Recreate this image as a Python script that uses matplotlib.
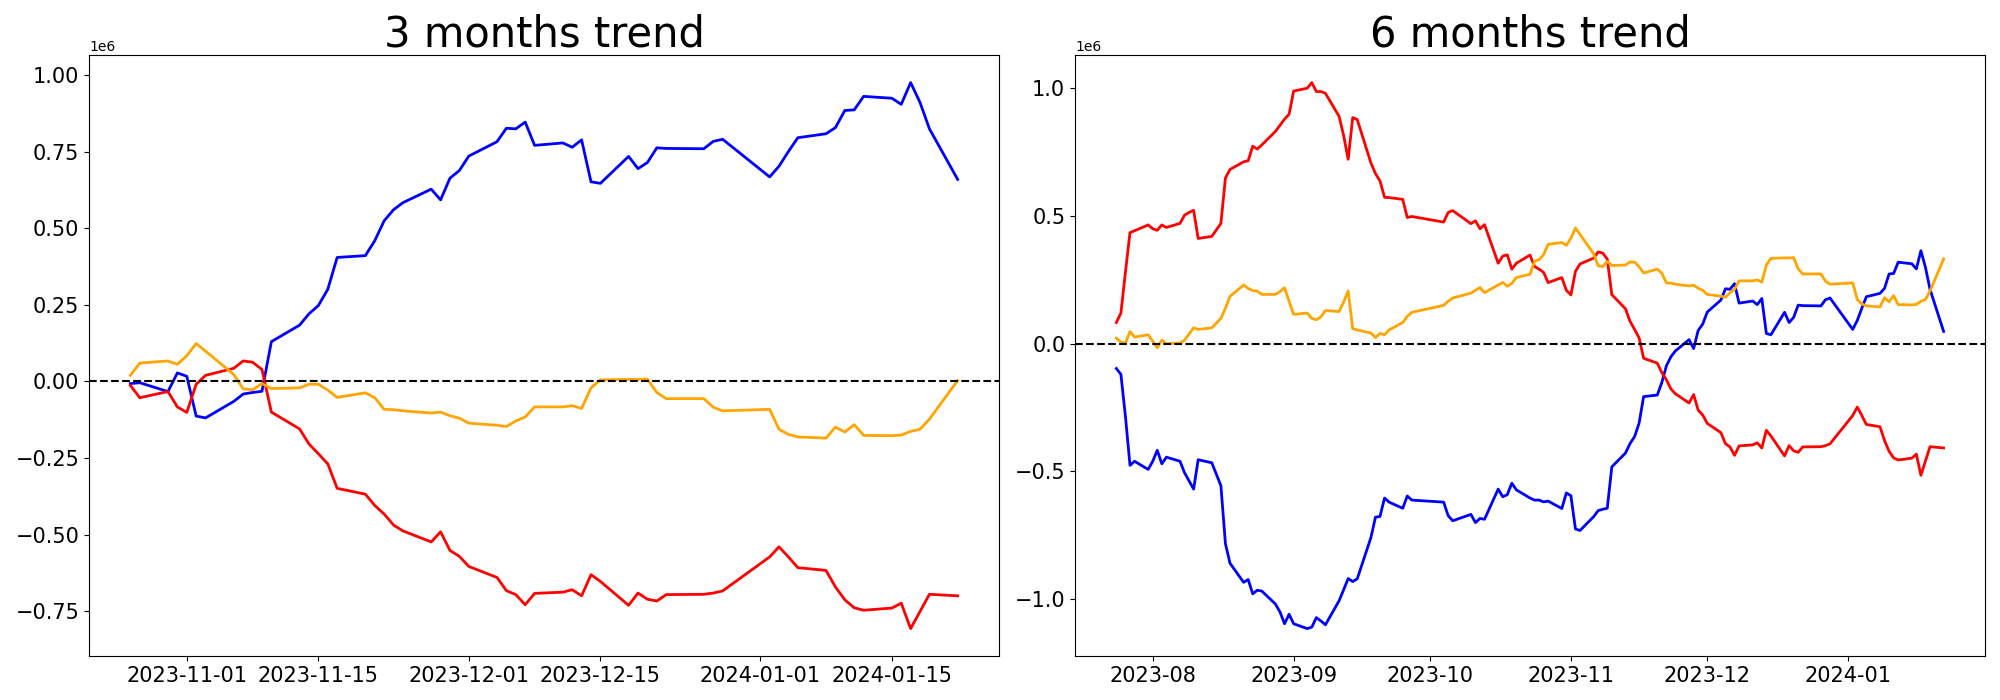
import numpy as np
import pandas as pd
import matplotlib
matplotlib.use("Agg")
import matplotlib.pyplot as plt

# KRX trading days (market closed on these)
holidays = ['2023-08-15', '2023-09-28', '2023-09-29', '2023-10-02', '2023-10-03',
            '2023-10-09', '2023-12-25', '2023-12-29', '2024-01-01']

dates_3m = pd.bdate_range('2023-10-26', '2024-01-22', freq='C', holidays=holidays)
dates_6m = pd.bdate_range('2023-07-24', '2024-01-22', freq='C', holidays=holidays)

# cumulative values, in millions
blue_3m = [-0.007, -0.004, -0.033, 0.028, 0.017, -0.113, -0.119, -0.065, -0.041, -0.036,
           -0.032, 0.13, 0.184, 0.221, 0.248, 0.301, 0.405, 0.411, 0.46, 0.525,
           0.561, 0.584, 0.628, 0.593, 0.664, 0.689, 0.736, 0.783, 0.827, 0.825,
           0.847, 0.771, 0.779, 0.765, 0.789, 0.652, 0.647, 0.735, 0.695, 0.715,
           0.763, 0.761, 0.76, 0.784, 0.791, 0.668, 0.703, 0.751, 0.796, 0.809,
           0.829, 0.885, 0.887, 0.931, 0.925, 0.905, 0.976, 0.911, 0.825, 0.66]
red_3m = [-0.013, -0.053, -0.033, -0.083, -0.101, -0.009, 0.02, 0.043, 0.067, 0.063,
          0.039, -0.1, -0.155, -0.204, -0.236, -0.269, -0.349, -0.368, -0.405, -0.433,
          -0.469, -0.488, -0.524, -0.491, -0.552, -0.571, -0.604, -0.64, -0.683, -0.696,
          -0.729, -0.692, -0.688, -0.68, -0.70, -0.631, -0.653, -0.731, -0.691, -0.711,
          -0.717, -0.696, -0.695, -0.691, -0.684, -0.573, -0.54, -0.573, -0.608, -0.617,
          -0.671, -0.713, -0.739, -0.747, -0.74, -0.724, -0.807, -0.751, -0.695, -0.70]
orange_3m = [0.02, 0.06, 0.067, 0.056, 0.084, 0.124, 0.099, 0.023, -0.024, -0.027,
             -0.007, -0.023, -0.021, -0.009, -0.009, -0.028, -0.052, -0.037, -0.053, -0.091,
             -0.092, -0.096, -0.103, -0.1, -0.112, -0.12, -0.136, -0.143, -0.147, -0.129,
             -0.116, -0.083, -0.083, -0.079, -0.088, -0.021, 0.005, 0.007, 0.007, 0.008,
             -0.036, -0.056, -0.056, -0.084, -0.096, -0.091, -0.156, -0.173, -0.181, -0.185,
             -0.149, -0.165, -0.141, -0.176, -0.177, -0.175, -0.163, -0.156, -0.123, 0.003]

blue_6m = [-0.097, -0.12, -0.285, -0.476, -0.46, -0.492, -0.46, -0.417, -0.47, -0.444,
           -0.46, -0.505, -0.537, -0.569, -0.454, -0.466, -0.556, -0.783, -0.859, -0.934,
           -0.923, -0.979, -0.965, -0.968, -1.019, -1.05, -1.096, -1.059, -1.096, -1.115,
           -1.109, -1.072, -1.085, -1.10, -1.006, -0.963, -0.919, -0.931, -0.92, -0.759,
           -0.679, -0.676, -0.604, -0.62, -0.644, -0.596, -0.612, -0.62, -0.673, -0.693,
           -0.668, -0.70, -0.684, -0.687, -0.569, -0.599, -0.591, -0.546, -0.572, -0.604,
           -0.612, -0.612,
           -0.619, -0.616, -0.645, -0.584, -0.595, -0.725, -0.731, -0.677, -0.653, -0.648,
           -0.644, -0.482, -0.428, -0.391, -0.364, -0.311, -0.207, -0.201, -0.152, -0.087,
           -0.051, -0.028, 0.016, -0.019, 0.052, 0.077, 0.124, 0.171, 0.215, 0.213,
           0.235, 0.159, 0.167, 0.153, 0.177, 0.04, 0.035, 0.123, 0.083, 0.103,
           0.151, 0.149, 0.148, 0.172, 0.179, 0.056, 0.091, 0.139, 0.184, 0.197,
           0.217, 0.273, 0.275, 0.319, 0.313, 0.293, 0.364, 0.299, 0.213, 0.048]
red_6m = [0.083, 0.12, 0.28, 0.435, 0.442, 0.465, 0.45, 0.444, 0.465, 0.455,
          0.471, 0.503, 0.514, 0.522, 0.412, 0.42, 0.471, 0.649, 0.682, 0.712,
          0.716, 0.773, 0.762, 0.778, 0.831, 0.855, 0.879, 0.898, 0.989, 1.0,
          1.022, 0.987, 0.987, 0.98, 0.89, 0.815, 0.722, 0.885, 0.877, 0.708,
          0.666, 0.637, 0.573, 0.572, 0.565, 0.494, 0.498, 0.476, 0.514, 0.521,
          0.47, 0.481, 0.45, 0.466, 0.315, 0.343, 0.348, 0.292, 0.315, 0.347,
          0.302, 0.292,
          0.279, 0.239, 0.259, 0.209, 0.191, 0.283, 0.312, 0.335, 0.359, 0.355,
          0.331, 0.192, 0.137, 0.088, 0.056, 0.023, -0.057, -0.076, -0.113, -0.141,
          -0.177, -0.196, -0.232, -0.199, -0.26, -0.279, -0.312, -0.348, -0.391, -0.404,
          -0.437, -0.4, -0.396, -0.388, -0.408, -0.339, -0.361, -0.439, -0.399, -0.419,
          -0.425, -0.404, -0.403, -0.399, -0.392, -0.281, -0.248, -0.281, -0.316, -0.325,
          -0.379, -0.421, -0.447, -0.455, -0.448, -0.432, -0.515, -0.459, -0.403, -0.408]
orange_6m = [0.022, 0.006, 0.002, 0.048, 0.026, 0.035, 0.01, -0.016, 0.014, 0.0,
             0.003, 0.014, 0.038, 0.062, 0.056, 0.062, 0.099, 0.139, 0.185, 0.23,
             0.216, 0.208, 0.206, 0.193, 0.193, 0.204, 0.219, 0.166, 0.115, 0.12,
             0.099, 0.094, 0.105, 0.13, 0.126, 0.163, 0.206, 0.059, 0.054, 0.042,
             0.024, 0.04, 0.035, 0.054, 0.083, 0.107, 0.123, 0.15, 0.166, 0.179,
             0.198, 0.209, 0.22, 0.2, 0.23, 0.24, 0.225, 0.236, 0.259, 0.272,
             0.323, 0.329,
             0.349, 0.389, 0.396, 0.385, 0.413, 0.453, 0.428, 0.352, 0.305, 0.302,
             0.322, 0.306, 0.308, 0.32, 0.32, 0.301, 0.277, 0.292, 0.276, 0.238,
             0.237, 0.233, 0.226, 0.229, 0.217, 0.209, 0.193, 0.186, 0.182, 0.2,
             0.213, 0.246, 0.246, 0.25, 0.241, 0.308, 0.334, 0.336, 0.336, 0.337,
             0.293, 0.273, 0.273, 0.245, 0.233, 0.238, 0.173, 0.156, 0.148, 0.144,
             0.18, 0.164, 0.188, 0.153, 0.152, 0.154, 0.166, 0.173, 0.206, 0.332]

titles = ['3 months trend', '6 months trend']

fig, axes = plt.subplots(1, 2, figsize=(20, 7), dpi=100)
fig.subplots_adjust(left=0.0445, right=0.9925, bottom=0.063, top=0.921, wspace=0.0835)

panels = [(dates_3m, blue_3m, red_3m, orange_3m), (dates_6m, blue_6m, red_6m, orange_6m)]
for ax, (d, b, r, o), t in zip(axes, panels, titles):
    ax.plot(d, np.array(b) * 1e6, color='blue', lw=2)
    ax.plot(d, np.array(r) * 1e6, color='red', lw=2)
    ax.plot(d, np.array(o) * 1e6, color='orange', lw=2)
    ax.axhline(0, color='black', linestyle='--', lw=1.5)
    ax.set_title(t, fontsize=30)
    ax.tick_params(labelsize=15)

fig.savefig('out.png')
